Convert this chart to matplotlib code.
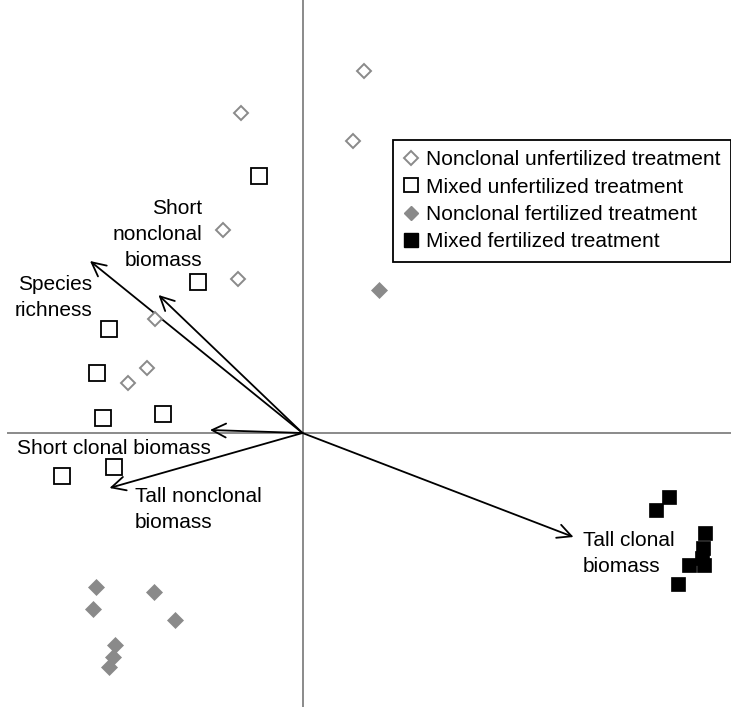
import matplotlib
matplotlib.use("Agg")
import matplotlib.pyplot as plt
from matplotlib.lines import Line2D

plt.rcParams['font.family'] = ['Liberation Sans', 'DejaVu Sans']

# site scores per treatment
nc_unfert_x = [0.615, -0.62, 0.50, -0.80, -0.65, -1.475, -1.56, -1.745]
nc_unfert_y = [3.62, 3.20, 2.92, 2.03, 1.54, 1.14, 0.65, 0.50]

mix_unfert_x = [-0.44, -1.045, -1.935, -2.06, -2.00, -1.395, -1.89, -2.41]
mix_unfert_y = [2.57, 1.51, 1.04, 0.60, 0.15, 0.19, -0.34, -0.43]

nc_fert_x = [0.76, -2.065, -2.10, -1.49, -1.28, -1.88, -1.90, -1.935]
nc_fert_y = [1.43, -1.54, -1.76, -1.59, -1.87, -2.12, -2.24, -2.34]

mix_fert_x = [3.665, 3.53, 4.025, 4.005, 3.995, 3.86, 4.015, 3.755]
mix_fert_y = [-0.64, -0.77, -1.00, -1.15, -1.25, -1.32, -1.32, -1.51]

# variable vectors
vec_names = ['Species\nrichness', 'Short\nnonclonal\nbiomass', 'Short clonal biomass',
             'Tall nonclonal\nbiomass', 'Tall clonal\nbiomass']
vec_x = [-2.125, -1.44, -0.925, -1.93, 2.71]
vec_y = [1.72, 1.38, 0.03, -0.55, -1.04]

# label anchor points (x, y, horizontal alignment)
label_pos = [(-2.105, 1.575, 'right'), (-1.005, 2.34, 'right'), (-2.855, -0.06, 'left'),
             (-1.675, -0.54, 'left'), (2.805, -0.98, 'left')]

fig = plt.figure(figsize=(7.31, 7.07), dpi=100)
ax = fig.add_axes([0, 0, 1, 1])
ax.set_xlim(-3.025, 4.285)
ax.set_ylim(-2.74, 4.33)
ax.axis('off')

grey = '#8a8a8a'
ax.plot([-2.945, 4.285], [0, 0], color=grey, lw=1.4, zorder=1)
ax.plot([0, 0], [-2.74, 4.33], color=grey, lw=1.4, zorder=1)

for vx, vy in zip(vec_x, vec_y):
    ax.annotate('', xy=(vx, vy), xytext=(0, 0),
                arrowprops=dict(arrowstyle='->', color='black', lw=1.3,
                                mutation_scale=25, shrinkA=0, shrinkB=0), zorder=2)

for name, (lx, ly, ha) in zip(vec_names, label_pos):
    ax.text(lx, ly, name, ha=ha, va='top', fontsize=15, multialignment=ha,
            linespacing=1.45)

ax.plot(nc_unfert_x, nc_unfert_y, 'D', ms=7.5, mfc='white', mec=grey, mew=1.4, ls='none', zorder=3)
ax.plot(mix_unfert_x, mix_unfert_y, 's', ms=11, mfc='white', mec='black', mew=1.3, ls='none', zorder=3)
ax.plot(nc_fert_x, nc_fert_y, 'D', ms=8, mfc=grey, mec=grey, mew=0.5, ls='none', zorder=3)
ax.plot(mix_fert_x, mix_fert_y, 's', ms=10.5, mfc='black', mec='black', mew=0.5, ls='none', zorder=3)

handles = [
    Line2D([], [], marker='D', ms=7, mfc='white', mec=grey, mew=1.4, ls='none'),
    Line2D([], [], marker='s', ms=10, mfc='white', mec='black', mew=1.3, ls='none'),
    Line2D([], [], marker='D', ms=7.5, mfc=grey, mec=grey, ls='none'),
    Line2D([], [], marker='s', ms=10, mfc='black', mec='black', ls='none'),
]
labels = ['Nonclonal unfertilized treatment', 'Mixed unfertilized treatment',
          'Nonclonal fertilized treatment', 'Mixed fertilized treatment']
leg = ax.legend(handles, labels, loc='upper right', bbox_to_anchor=(731 / 731, 1 - 140 / 707),
                bbox_transform=fig.transFigure, borderaxespad=0, fontsize=15,
                frameon=True, fancybox=False, edgecolor='black', framealpha=1,
                handlelength=0.8, handletextpad=0.3, labelspacing=0.4,
                borderpad=0.5)
leg.get_frame().set_linewidth(1.3)

fig.savefig('out.png', dpi=100)
